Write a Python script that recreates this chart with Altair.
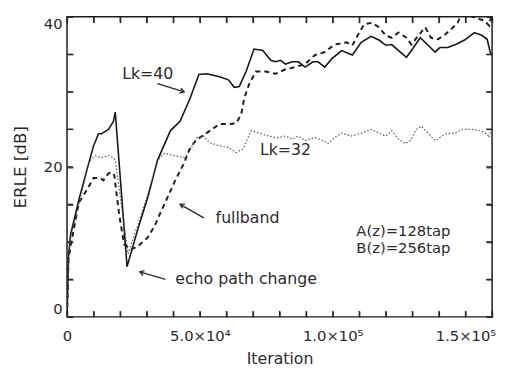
import altair as alt
import pandas as pd

# --- data ---
lk40_x = [0, 556, 1296, 4444, 7407, 10000, 11852, 12963, 15556, 17407, 18148,
          22593, 26667, 30370, 34074, 38889, 42593, 46296, 49630, 52593, 57407,
          60741, 62963, 64815, 67407, 70370, 73704, 76667, 78519, 80370, 82222,
          84815, 87037, 89630, 92593, 94444, 97037, 99630, 103333, 107407, 110741,
          114444, 117407, 120000, 122222, 124815, 127778, 129630, 132963, 135926,
          138519, 140370, 143333, 146296, 149630, 153333, 156296, 158148, 159259, 159630]
lk40_y = [0.1, 8.0, 10.9, 15.6, 19.5, 22.8, 24.4, 24.4, 25.0, 26.0, 27.3,
          6.7, 11.7, 15.9, 20.9, 24.8, 26.1, 29.1, 32.3, 32.4, 32.0,
          31.6, 30.6, 30.7, 32.7, 35.7, 35.5, 34.2, 34.0, 34.2, 33.7,
          34.0, 34.0, 33.3, 34.0, 34.0, 33.3, 34.4, 35.5, 34.9, 36.6,
          37.4, 36.9, 36.2, 36.3, 35.5, 34.6, 35.5, 37.2, 36.2,
          35.3, 35.9, 35.9, 36.3, 36.9, 37.9, 37.5, 37.0, 35.3, 35.0]

lk32_x = [0, 556, 1481, 4444, 7407, 8148, 10630, 12963, 15556, 17407, 18148,
          22963, 26667, 30370, 34074, 36667, 40370, 44074, 46296, 48889, 51481,
          53704, 57407, 60741, 63704, 66296, 69259, 72222, 75926, 78519, 79630,
          82222, 84815, 87037, 89630, 93333, 96296, 98148, 100741, 103333, 107037,
          110741, 114444, 117407, 120000, 122222, 124815, 127407, 129259, 131481,
          133333, 135926, 138519, 140370, 142593, 145926, 148889, 152593, 155556,
          158148, 158889, 159630]
lk32_y = [0.1, 8.0, 10.9, 15.0, 19.3, 20.6, 21.5, 21.2, 21.5, 21.2, 20.9,
          8.4, 12.3, 16.3, 20.9, 21.8, 21.5, 21.2, 22.2, 23.9, 24.1,
          23.2, 22.8, 22.6, 21.9, 22.4, 24.8, 24.5, 24.1, 23.9, 23.9,
          24.1, 23.7, 24.1, 23.5, 23.9, 23.5, 23.1, 23.9, 24.5, 24.1,
          24.5, 25.0, 24.5, 24.1, 24.8, 23.7, 23.1, 23.5, 25.0,
          25.4, 24.5, 23.5, 23.9, 24.4, 24.5, 25.0, 25.0, 24.8,
          24.4, 23.9, 25.2]

full_x = [0, 556, 1481, 4444, 7407, 10000, 12593, 13704, 15556, 16667, 17778,
          19630, 21481, 24074, 26667, 30370, 32963, 35185, 37037, 40741, 44074,
          45926, 47778, 50000, 53704, 57407, 61111, 63704, 65556, 66667, 68519,
          71111, 74815, 78519, 82222, 85926, 89630, 93333, 97037, 100741, 105185,
          107407, 110000, 111852, 114815, 117407, 120000, 122222, 124815, 127778,
          129630, 132222, 134815, 137037, 139630, 142222, 144444, 147037, 148148,
          150741, 153333, 157037, 158889, 159630]
full_y = [0.1, 7.7, 9.7, 15.2, 16.9, 18.5, 18.5, 18.2, 19.1, 19.3, 18.9,
          13.6, 9.7, 9.0, 9.4, 10.6, 12.1, 13.9, 15.3, 18.2, 20.5,
          22.2, 23.2, 23.9, 24.8, 25.7, 25.7, 25.8, 27.0, 29.1, 31.0,
          32.7, 32.7, 32.4, 33.0, 33.3, 33.7, 34.9, 35.3, 36.3, 36.6,
          36.2, 37.9, 39.0, 39.2, 38.6, 37.5, 37.2, 37.9, 37.2,
          36.3, 37.5, 38.6, 37.2, 37.0, 37.6, 38.3, 39.2, 40.1,
          40.3, 39.9, 39.5, 38.8, 40.0]

ann_text = ["Lk=40", "Lk=32", "fullband", "echo path change", "A(z)=128tap", "B(z)=256tap"]
ann_x = [30370, 82222, 55926, 40741, 108889, 108889]
ann_y = [32.3, 22.2, 13.2, 5.1, 11.5, 9.2]
ann_align = ["center", "center", "left", "left", "left", "left"]
ann_size = [16, 16, 16, 16, 15, 15]

arrow_x = [34074, 51481, 37037]
arrow_y = [31.1, 13.2, 5.0]
arrow_x2 = [44074, 42593, 27407]
arrow_y2 = [30.0, 15.0, 6.0]
arrow_angle = [16, 208, 197]

x_ticks = list(range(0, 160001, 10000))
y_ticks = list(range(0, 41, 5))

# --- chart ---
W, H = 432, 305
TICK = 6
xs = alt.Scale(domain=[0, 160000], nice=False, zero=False)
ys = alt.Scale(domain=[0, 40], nice=False, zero=False)

FONT = "DejaVu Sans"
INK = "#2a2a2a"

x_bottom = alt.Axis(values=x_ticks, orient="bottom", offset=-TICK, tickSize=TICK, tickWidth=1.3,
                    domain=False, grid=False, labelFlush=False, labelOverlap=False,
                    labelExpr="datum.value == 0 ? '0' : datum.value == 50000 ? '5.0×10⁴' : datum.value == 100000 ? '1.0×10⁵' : datum.value == 150000 ? '1.5×10⁵' : ''",
                    labelFontSize=15, labelPadding=12, title="Iteration", titleFontSize=16,
                    titleFontWeight="normal", titlePadding=7, labelColor=INK, titleColor=INK,
                    tickColor=INK, labelFont=FONT, titleFont=FONT)
y_left = alt.Axis(values=y_ticks, orient="left", offset=-TICK, tickSize=TICK, tickWidth=1.3,
                  domain=False, grid=False, labelFlush=True, labelOverlap=False,
                  labelExpr="datum.value % 20 == 0 ? datum.label : ''",
                  labelFontSize=15, labelPadding=5, title="ERLE  [dB]", titleFontSize=17,
                  titleFontWeight="normal", titlePadding=14, labelColor=INK, titleColor=INK,
                  tickColor=INK, labelFont=FONT, titleFont=FONT)
x_top = alt.Axis(values=x_ticks, orient="top", offset=-TICK, tickSize=TICK, tickWidth=1.3,
                 domain=False, grid=False, labels=False, title=None, tickColor=INK)
y_right = alt.Axis(values=y_ticks, orient="right", offset=-TICK, tickSize=TICK, tickWidth=1.3,
                   domain=False, grid=False, labels=False, title=None, tickColor=INK)

df40 = pd.DataFrame({"x": lk40_x, "y": lk40_y})
df32 = pd.DataFrame({"x": lk32_x, "y": lk32_y})
dff = pd.DataFrame({"x": full_x, "y": full_y})

solid = alt.Chart(df40).mark_line(color="#151515", strokeWidth=1.6, clip=True).encode(
    x=alt.X("x:Q", scale=xs, axis=x_bottom),
    y=alt.Y("y:Q", scale=ys, axis=y_left),
    order="x:Q",
)
dashed = alt.Chart(dff).mark_line(color="#1e1e1e", strokeWidth=2, strokeDash=[5, 4], clip=True).encode(
    x=alt.X("x:Q", scale=xs, axis=x_top),
    y=alt.Y("y:Q", scale=ys, axis=y_right),
    order="x:Q",
)
dotted = alt.Chart(df32).mark_line(color="#555555", strokeWidth=1.2, strokeDash=[1.5, 2], clip=True).encode(
    x=alt.X("x:Q", scale=xs, axis=None),
    y=alt.Y("y:Q", scale=ys, axis=None),
    order="x:Q",
)

# inward frame ticks, at the same places as the axis ticks
xt = pd.DataFrame({"v": x_ticks})
yt = pd.DataFrame({"v": y_ticks})
tick_style = dict(color=INK, thickness=1.3, size=TICK, opacity=1)
t_bottom = alt.Chart(xt).mark_tick(orient="vertical", **tick_style).encode(
    x=alt.X("v:Q", scale=xs, axis=None), y=alt.value(H - TICK / 2))
t_top = alt.Chart(xt).mark_tick(orient="vertical", **tick_style).encode(
    x=alt.X("v:Q", scale=xs, axis=None), y=alt.value(TICK / 2))
t_left = alt.Chart(yt).mark_tick(orient="horizontal", **tick_style).encode(
    y=alt.Y("v:Q", scale=ys, axis=None), x=alt.value(TICK / 2))
t_right = alt.Chart(yt).mark_tick(orient="horizontal", **tick_style).encode(
    y=alt.Y("v:Q", scale=ys, axis=None), x=alt.value(W - TICK / 2))

ann = pd.DataFrame({"t": ann_text, "x": ann_x, "y": ann_y, "a": ann_align, "s": ann_size})
texts_c = alt.Chart(ann[ann.a == "center"]).mark_text(
    font=FONT, color=INK, align="center", baseline="middle").encode(
    x=alt.X("x:Q", scale=xs, axis=None), y=alt.Y("y:Q", scale=ys, axis=None), text="t:N",
    size=alt.Size("s:Q", scale=None, legend=None))
texts_l = alt.Chart(ann[ann.a == "left"]).mark_text(
    font=FONT, color=INK, align="left", baseline="middle").encode(
    x=alt.X("x:Q", scale=xs, axis=None), y=alt.Y("y:Q", scale=ys, axis=None), text="t:N",
    size=alt.Size("s:Q", scale=None, legend=None))

arr = pd.DataFrame({"x": arrow_x, "y": arrow_y, "x2": arrow_x2, "y2": arrow_y2, "ang": arrow_angle})
shafts = alt.Chart(arr).mark_rule(color=INK, strokeWidth=1.4).encode(
    x=alt.X("x:Q", scale=xs, axis=None), y=alt.Y("y:Q", scale=ys, axis=None),
    x2="x2:Q", y2="y2:Q")
heads = alt.Chart(arr).mark_point(shape="M-1,-0.6L0,0L-1,0.6", filled=False, color=INK,
                                  strokeWidth=1.4, size=70, opacity=1).encode(
    x=alt.X("x2:Q", scale=xs, axis=None), y=alt.Y("y2:Q", scale=ys, axis=None),
    angle=alt.Angle("ang:Q", scale=None))

chart = alt.layer(solid, dashed, dotted, t_bottom, t_top, t_left, t_right,
                  texts_c, texts_l, shafts, heads).resolve_axis(
    x="independent", y="independent"
).properties(
    width=W, height=H,
    padding={"left": 60, "top": 6, "right": 5, "bottom": 47},
    autosize=alt.AutoSizeParams(type="none"),
    background="white",
).configure_view(stroke="#1a1a1a", strokeWidth=1.5)

chart.save("out.html", embed_options={"renderer": "svg", "actions": False})
